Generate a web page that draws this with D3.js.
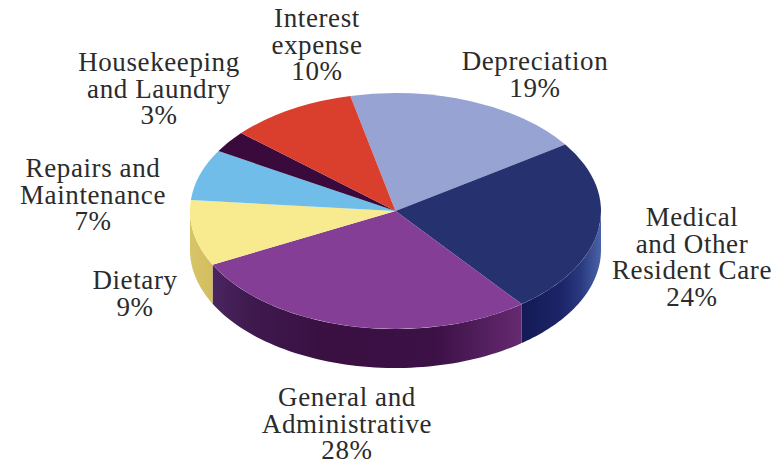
<!DOCTYPE html>
<html>
<head>
<meta charset="utf-8">
<script src="https://cdn.jsdelivr.net/npm/d3@7"></script>
<style>
  html, body { margin: 0; padding: 0; background: #fff; }
  svg { display: block; }
  text { font-family: "Liberation Serif", serif; fill: #2b2b2b; font-size: 27px; letter-spacing: 0.6px; text-anchor: middle; }
</style>
</head>
<body>
<svg id="chart" width="782" height="464"></svg>
<script>
// Operating expense shares, clockwise from the Depreciation slice
const categories = ["Depreciation", "Medical and Other Resident Care", "General and Administrative", "Dietary", "Repairs and Maintenance", "Housekeeping and Laundry", "Interest expense"];
const shares = [19, 24, 28, 9, 7, 3, 10];
const labelLines = [
  ["Depreciation"],
  ["Medical", "and Other", "Resident Care"],
  ["General and", "Administrative"],
  ["Dietary"],
  ["Repairs and", "Maintenance"],
  ["Housekeeping", "and Laundry"],
  ["Interest", "expense"]
];
const topColors = ["#97a3d3", "#263170", "#843e96", "#f8ea8e", "#71bdea", "#3b0a3c", "#da3f2e"];

// Wall shading: [offset, colour] stops for each slice that shows a side face
const wallStops = {
  1: [[0, "#141a55"], [0.5, "#1c2568"], [0.75, "#2a3a80"], [1, "#4a63a8"]],
  2: [[0, "#4a2560"], [0.12, "#3f1a4e"], [0.35, "#3a1042"], [0.72, "#3c1146"], [1, "#652a70"]],
  3: [[0, "#d8c468"], [1, "#d3bd60"]]
};
const labelX = [535, 692, 347, 135, 93, 159, 317];
const labelBaseline = [70, 226, 406, 289, 177, 71, 27];
const lineStep = 26.6;

const cx = 395.5, cy = 211, rx = 205.5, ry = 118, depth = 39;
const startAngle = -12.7 * Math.PI / 180;

const svg = d3.select("#chart");
const defs = svg.append("defs");

const pie = d3.pie().sort(null).value(d => d)
  .startAngle(startAngle).endAngle(startAngle + 2 * Math.PI);
const slices = pie(shares);

// Clockwise-from-top angle to a point on the rim of the flattened disc
const rimX = a => cx + rx * Math.sin(a);
const rimY = a => cy - ry * Math.cos(a);

// Side faces: only the part of each rim facing the viewer (90 to 270 degrees)
const wall = d3.line();
slices.forEach((s, i) => {
  const a0 = Math.max(s.startAngle, Math.PI / 2);
  const a1 = Math.min(s.endAngle, 3 * Math.PI / 2);
  if (a0 >= a1 || !wallStops[i]) return;
  const steps = d3.range(0, 61).map(k => a0 + (a1 - a0) * k / 60);
  const outline = steps.map(a => [rimX(a), rimY(a)])
    .concat(steps.slice().reverse().map(a => [rimX(a), rimY(a) + depth]));

  const xs = outline.map(p => p[0]);
  const grad = defs.append("linearGradient")
    .attr("id", "wall" + i)
    .attr("gradientUnits", "userSpaceOnUse")
    .attr("x1", d3.min(xs)).attr("x2", d3.max(xs))
    .attr("y1", 0).attr("y2", 0);
  // The stops run left to right across the face
  wallStops[i].forEach(([o, c]) => grad.append("stop").attr("offset", o).attr("stop-color", c));

  svg.append("path")
    .attr("d", wall(outline) + "Z")
    .attr("fill", `url(#wall${i})`);
});

// Top surface: a regular pie squashed vertically into an ellipse
const arc = d3.arc().innerRadius(0).outerRadius(rx);
svg.append("g")
  .attr("transform", `translate(${cx},${cy}) scale(1,${ry / rx})`)
  .selectAll("path")
  .data(slices)
  .join("path")
  .attr("d", arc)
  .attr("fill", (d, i) => topColors[i]);

// Category names with the share on the last line
const labels = svg.append("g");
categories.forEach((name, i) => {
  const lines = labelLines[i].concat(shares[i] + "%");
  const t = labels.append("text").attr("aria-label", name);
  lines.forEach((line, k) => {
    t.append("tspan")
      .attr("x", labelX[i])
      .attr("y", labelBaseline[i] + k * lineStep)
      .text(line);
  });
});
</script>
</body>
</html>
